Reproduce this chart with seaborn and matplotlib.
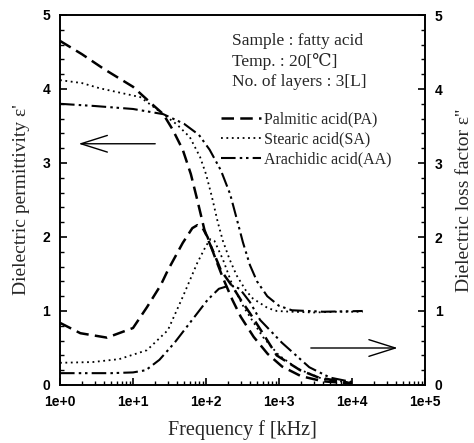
import matplotlib
matplotlib.use("Agg")
import matplotlib.pyplot as plt
import pandas as pd
import seaborn as sns
from matplotlib.lines import Line2D

# Frequency [kHz] and values
# Dielectric permittivity e' (left axis)
f_e1_pa = [1, 2, 4, 10, 18, 26, 35, 48, 62, 76, 95, 107, 126, 160, 234, 300, 400, 600, 930, 1950, 3500, 7000, 10000]
e1_pa = [4.65, 4.47, 4.27, 4.03, 3.80, 3.66, 3.45, 3.18, 2.85, 2.50, 2.10, 1.96, 1.80, 1.55, 1.32, 1.15, 0.97, 0.70, 0.40, 0.20, 0.10, 0.05, 0.02]

f_e1_sa = [1, 2, 3.5, 12.6, 26, 40, 60, 83, 100, 120, 145, 170, 210, 263, 350, 437, 700, 933, 1500, 3000, 6000, 14000]
e1_sa = [4.12, 4.08, 4.01, 3.89, 3.66, 3.52, 3.35, 3.08, 2.85, 2.55, 2.20, 1.95, 1.70, 1.48, 1.28, 1.17, 1.04, 1.00, 0.99, 0.98, 0.99, 0.99]

f_e1_aa = [1, 3, 10, 26, 50, 80, 112, 160, 214, 263, 320, 400, 500, 690, 1000, 1500, 4000, 14000]
e1_aa = [3.80, 3.77, 3.73, 3.66, 3.53, 3.38, 3.18, 2.90, 2.58, 2.25, 1.93, 1.62, 1.40, 1.20, 1.07, 1.01, 0.99, 1.00]

# Dielectric loss factor e'' (right axis)
f_e2_pa = [1, 1.9, 4.4, 10, 15.5, 24, 30, 48, 65, 76, 90, 105, 130, 170, 230, 300, 450, 700, 1100, 2000, 4000, 10000]
e2_pa = [0.84, 0.70, 0.64, 0.77, 1.05, 1.35, 1.55, 1.92, 2.12, 2.16, 2.12, 2.00, 1.75, 1.45, 1.15, 0.92, 0.65, 0.42, 0.25, 0.12, 0.05, 0.02]

f_e2_sa = [1, 2.8, 6.5, 15.5, 30, 48, 76, 100, 115, 130, 170, 230, 330, 600, 1000, 1800, 4000, 10000]
e2_sa = [0.30, 0.31, 0.35, 0.47, 0.74, 1.19, 1.65, 1.88, 1.97, 1.95, 1.70, 1.35, 1.05, 0.65, 0.40, 0.22, 0.08, 0.03]

f_e2_aa = [1, 5, 10, 15, 23, 37, 76, 105, 150, 220, 290, 400, 550, 1100, 2600, 5000, 10000]
e2_aa = [0.16, 0.16, 0.17, 0.20, 0.34, 0.57, 0.97, 1.15, 1.30, 1.35, 1.30, 1.12, 0.88, 0.57, 0.24, 0.10, 0.04]

x_ticks = [1, 10, 100, 1000, 10000, 100000]
x_tick_labels = ["1e+0", "1e+1", "1e+2", "1e+3", "1e+4", "1e+5"]
y_ticks = [0, 1, 2, 3, 4, 5]
y_tick_labels = ["0", "1", "2", "3", "4", "5"]

acids = ["Palmitic acid(PA)", "Stearic acid(SA)", "Arachidic acid(AA)"]

sns.set_style("ticks")
plt.rcParams["font.family"] = ["Liberation Serif", "DejaVu Serif"]

styles = {
    "PA": dict(linestyle=(0, (5, 2.5)), linewidth=1.8),
    "SA": dict(linestyle=(0, (1, 2)), linewidth=1.3),
    "AA": dict(linestyle=(0, (7, 2, 1.2, 1.8, 1.2, 2)), linewidth=1.5),
}

fig = plt.figure(figsize=(4.74, 4.43), dpi=100)
ax = fig.add_axes([60 / 474, 58 / 443, 365 / 474, 370 / 443])

curves = [
    (f_e1_pa, e1_pa, "PA"), (f_e1_sa, e1_sa, "SA"), (f_e1_aa, e1_aa, "AA"),
    (f_e2_pa, e2_pa, "PA"), (f_e2_sa, e2_sa, "SA"), (f_e2_aa, e2_aa, "AA"),
]
for f, v, key in curves:
    d = pd.DataFrame({"f": f, "v": v})
    sns.lineplot(data=d, x="f", y="v", ax=ax, color="black", sort=False,
                 **styles[key])

ax.set_xscale("log")
ax.set_xlim(1, 1e5)
ax.set_ylim(0, 5)
ax.set_xticks(x_ticks)
ax.set_xticklabels(x_tick_labels)
ax.set_yticks(y_ticks)
ax.set_yticklabels(y_tick_labels)
ax.yaxis.set_minor_locator(matplotlib.ticker.MultipleLocator(0.2))
ax.tick_params(which="both", direction="in", colors="black")
ax.tick_params(which="major", length=5, width=1.2, pad=7)
ax.tick_params(which="minor", length=3, width=1)
for lab in ax.get_xticklabels() + ax.get_yticklabels():
    lab.set_family("Liberation Sans")
    lab.set_weight("bold")
    lab.set_fontsize(10)
for s in ax.spines.values():
    s.set_linewidth(1.2)
    s.set_color("black")

ax.set_xlabel("Frequency f [kHz]", fontsize=14.5, labelpad=8)
ax.set_ylabel("Dielectric permittivity ε'", fontsize=14, labelpad=9)

ax2 = ax.twinx()
ax2.set_ylim(0, 5)
ax2.set_yticks(y_ticks)
ax2.set_yticklabels(y_tick_labels)
ax2.yaxis.set_minor_locator(matplotlib.ticker.MultipleLocator(0.2))
ax2.tick_params(which="both", direction="in", colors="black")
ax2.tick_params(which="major", length=5, width=1.2, pad=7)
ax2.tick_params(which="minor", length=3, width=1)
for lab in ax2.get_yticklabels():
    lab.set_family("Liberation Sans")
    lab.set_weight("bold")
    lab.set_fontsize(10)
ax2.set_ylabel("Dielectric loss factor ε''", fontsize=14, rotation=90, labelpad=10)
for s in ax2.spines.values():
    s.set_linewidth(1.2)
    s.set_color("black")

# arrows pointing to the axes
arrow = dict(arrowstyle="->,head_length=1.9,head_width=0.6", color="black", lw=1)
ax.annotate("", xy=(1.65, 3.26), xytext=(22, 3.26), arrowprops=arrow)
ax.annotate("", xy=(46000, 0.5), xytext=(2500, 0.5), arrowprops=arrow)

fig.text(232 / 474, 1 - 41 / 443, "Sample : fatty acid", fontsize=12.5, va="center")
fig.text(232 / 474, 1 - 62 / 443, "Temp. : 20[℃]", fontsize=12.5, va="center")
fig.text(232 / 474, 1 - 82 / 443, "No. of layers : 3[L]", fontsize=12.5, va="center")

handles = [Line2D([], [], color="black", **styles[k]) for k in ["PA", "SA", "AA"]]
ax.legend(handles, acids, loc="upper left", bbox_to_anchor=(221 / 474, 1 - 111.5 / 443),
          bbox_transform=fig.transFigure, frameon=False, fontsize=11.5,
          handlelength=2.5, handletextpad=0.2, labelspacing=0.26,
          borderpad=0, borderaxespad=0)

fig.savefig("out.png", dpi=100)
